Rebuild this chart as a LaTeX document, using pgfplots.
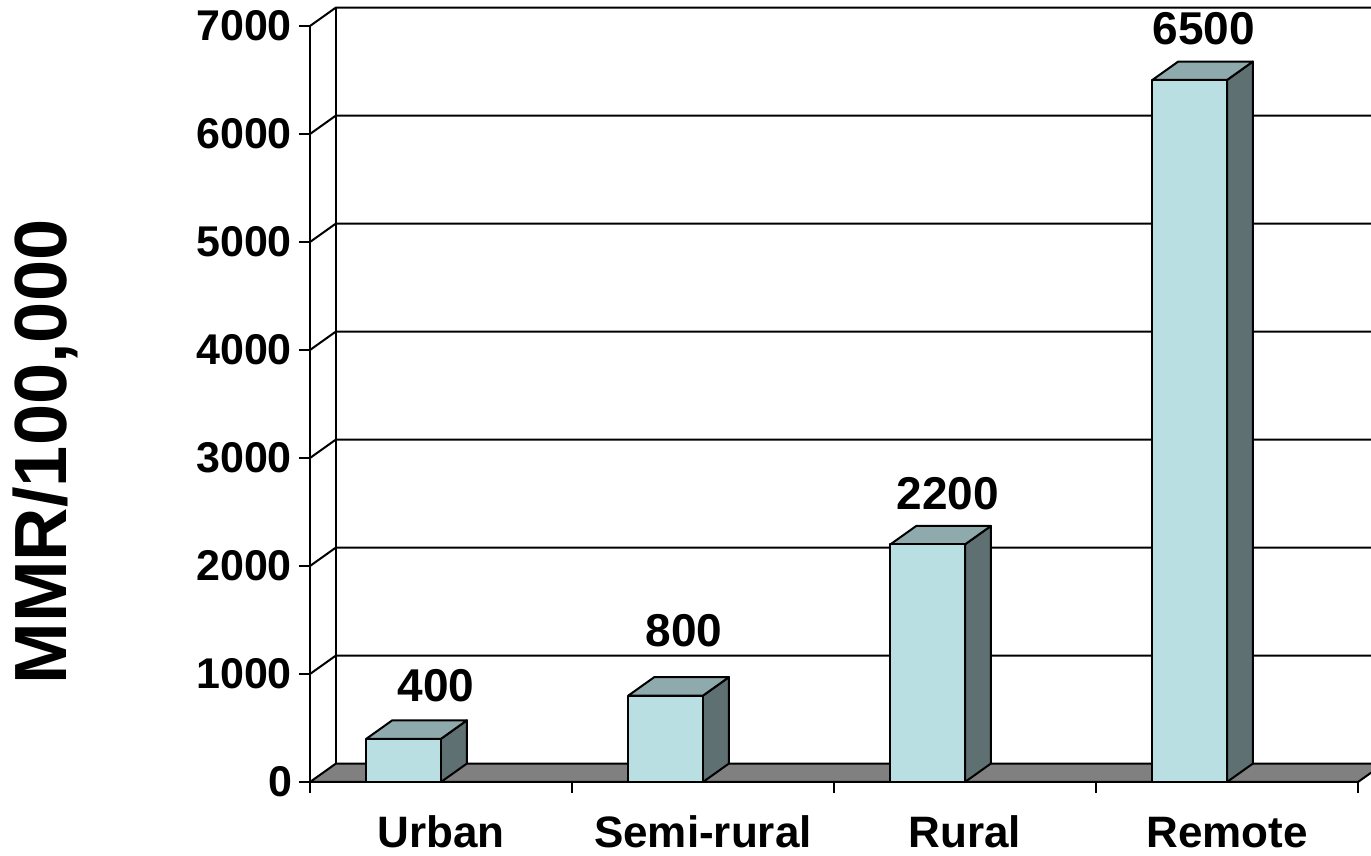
\documentclass[border=0pt]{standalone}
\usepackage{fontspec}
\setmainfont{Liberation Sans}
\usepackage{pgfplots}
\pgfplotsset{compat=1.18}
\definecolor{barfront}{HTML}{B9DFE3}
\definecolor{bartop}{HTML}{8FAAAC}
\definecolor{barside}{HTML}{5E7072}
\definecolor{floorgray}{HTML}{808080}

% one 3-D bar: #1 = category index (0,1,2,...), #2 = value
\newcommand{\threedbar}[2]{%
  \pgfmathsetmacro\bL{#1+0.215}%
  \pgfmathsetmacro\bR{#1+0.5}%
  \pgfmathsetmacro\bLb{#1+0.215+0.099}%
  \pgfmathsetmacro\bRb{#1+0.5+0.099}%
  \pgfmathsetmacro\bV{#2}%
  \pgfmathsetmacro\bVb{#2+171}%
  \edef\temp{\noexpand\addplot[fill=barside, draw=black, line width=1pt, line join=round]
    coordinates {(\bR,0) (\bRb,171) (\bRb,\bVb) (\bR,\bV)} -- cycle;}\temp
  \edef\temp{\noexpand\addplot[fill=bartop, draw=black, line width=1pt, line join=round]
    coordinates {(\bL,\bV) (\bR,\bV) (\bRb,\bVb) (\bLb,\bVb)} -- cycle;}\temp
  \edef\temp{\noexpand\addplot[fill=barfront, draw=black, line width=1pt, line join=round]
    coordinates {(\bL,0) (\bR,0) (\bR,\bV) (\bL,\bV)} -- cycle;}\temp
}

\begin{document}
\begin{tikzpicture}
\useasboundingbox (-155pt,-37pt) rectangle (530.5pt,391pt);
\begin{axis}[
  at={(0pt,0pt)}, anchor=south west,
  x=131pt, y=0.054pt,
  xmin=0, xmax=4, ymin=0, ymax=7000,
  enlargelimits=false, clip=false,
  axis x line=bottom, axis y line=left,
  axis line style={-, line width=1pt, black},
  axis on top,
  ytick={0,1000,...,7000},
  xtick={0,1,2,3,4},
  xticklabels={},
  extra x ticks={0.5,1.5,2.5,3.5},
  extra x tick labels={Urban,Semi-rural,Rural,Remote},
  extra x tick style={major tick length=0pt,
    xticklabel style={font=\fontsize{22}{24}\selectfont\bfseries, anchor=base, yshift=-33pt}},
  tick align=outside,
  major tick length=5.5pt,
  tick style={line width=1pt, black},
  scaled y ticks=false,
  /pgf/number format/assume math mode=true,
  /pgf/number format/1000 sep={},
  yticklabel style={font=\fontsize{21.5}{24}\selectfont\bfseries},
  ylabel={MMR/100,000},
  every axis y label/.style={at={(axis description cs:-0.2529,0.4365)}, anchor=center, rotate=90,
    font=\fontsize{37}{40}\selectfont\bfseries},
]
% back wall: grid lines with their diagonals to the front axis
\addplot[black, line width=1pt] coordinates {(0,1000) (0.099,1171) (4.099,1171)};
\addplot[black, line width=1pt] coordinates {(0,2000) (0.099,2171) (4.099,2171)};
\addplot[black, line width=1pt] coordinates {(0,3000) (0.099,3171) (4.099,3171)};
\addplot[black, line width=1pt] coordinates {(0,4000) (0.099,4171) (4.099,4171)};
\addplot[black, line width=1pt] coordinates {(0,5000) (0.099,5171) (4.099,5171)};
\addplot[black, line width=1pt] coordinates {(0,6000) (0.099,6171) (4.099,6171)};
\addplot[black, line width=1pt] coordinates {(0,7000) (0.099,7171) (4.099,7171)};
\addplot[black, line width=1pt] coordinates {(0.099,171) (0.099,7171)};
% floor
\addplot[fill=floorgray, draw=black, line width=1pt, line join=round]
  coordinates {(0,0) (4,0) (4.099,171) (0.099,171)} -- cycle;
% bars
\threedbar{0}{400}
\threedbar{1}{800}
\threedbar{2}{2200}
\threedbar{3}{6500}
% value labels
\addplot[draw=none, nodes near coords, point meta=explicit symbolic,
  every node near coord/.style={anchor=center, font=\fontsize{23}{25}\selectfont\bfseries, black}]
  coordinates {(0.481,889) [400] (1.427,1398) [800] (2.435,2667) [2200] (3.412,6972) [6500]};
\end{axis}
\end{tikzpicture}
\end{document}
